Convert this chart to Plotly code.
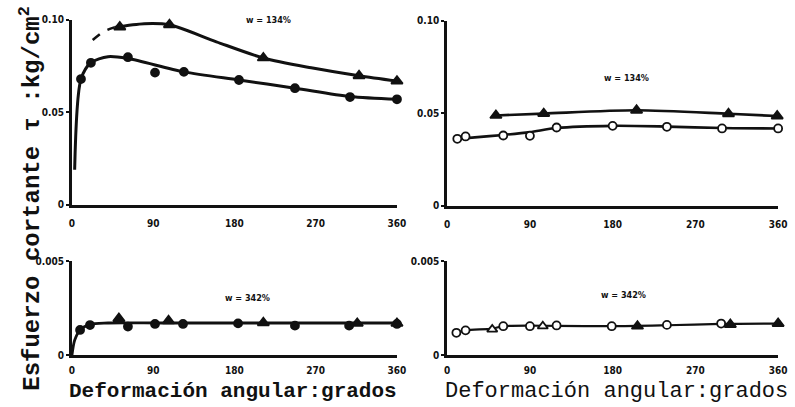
import plotly.graph_objects as go

# ---------------- data ----------------
# Top-left panel (w = 134 %), shear stress kg/cm2 vs angular deformation (deg)
tl_tri_x = [53, 108, 212, 318, 360]
tl_tri_y = [0.0960, 0.0972, 0.0793, 0.0697, 0.0668]
tl_cir_x = [10, 21, 62, 92, 124, 185, 247, 308, 360]
tl_cir_y = [0.0679, 0.0767, 0.0797, 0.0714, 0.0718, 0.0674, 0.0630, 0.0582, 0.0570]
tl_tri_curve_dash_x = [23, 35, 47]
tl_tri_curve_dash_y = [0.0890, 0.0935, 0.0958]
tl_tri_curve_x = [47, 80, 108, 160, 212, 265, 318, 360]
tl_tri_curve_y = [0.0958, 0.0978, 0.0972, 0.0880, 0.0793, 0.0740, 0.0697, 0.0668]
tl_cir_curve_x = [3, 10, 21, 40, 62, 124, 185, 247, 308, 360]
tl_cir_curve_y = [0.019, 0.0679, 0.0767, 0.0800, 0.0790, 0.0718, 0.0674, 0.0630, 0.0585, 0.0570]

# Top-right panel (w = 134 %)
tr_tri_x = [53, 105, 206, 306, 359]
tr_tri_y = [0.0488, 0.0498, 0.0516, 0.0497, 0.0485]
tr_cir_x = [11, 20, 61, 90, 119, 180, 239, 299, 360]
tr_cir_y = [0.0362, 0.0375, 0.0380, 0.0378, 0.0423, 0.0432, 0.0427, 0.0418, 0.0418]
tr_cir_curve_x = [8, 30, 61, 90, 119, 180, 239, 299, 360]
tr_cir_curve_y = [0.0360, 0.0370, 0.0383, 0.0398, 0.0420, 0.0432, 0.0428, 0.0420, 0.0418]

# Bottom-left panel (w = 342 %)
bl_cir_x = [9, 20, 62, 92, 123, 184, 247, 307, 360]
bl_cir_y = [0.00135, 0.00161, 0.00153, 0.00167, 0.00167, 0.00170, 0.00158, 0.00158, 0.00167]
bl_tri_x = [52, 107, 212, 316, 360]
bl_tri_y = [0.00196, 0.00184, 0.00173, 0.00170, 0.00170]
bl_curve_x = [0, 3, 9, 20, 40, 100, 200, 300, 360]
bl_curve_y = [0.0, 0.0008, 0.00135, 0.00165, 0.00172, 0.00172, 0.00172, 0.00172, 0.00172]

# Bottom-right panel (w = 342 %)
br_cir_x = [10, 20, 61, 90, 119, 179, 239, 298]
br_cir_y = [0.00120, 0.00133, 0.00155, 0.00155, 0.00159, 0.00155, 0.00162, 0.00169]
br_otri_x = [49, 104]
br_otri_y = [0.00138, 0.00155]
br_ftri_x = [207, 308, 360]
br_ftri_y = [0.00155, 0.00164, 0.00169]
br_curve_x = [10, 20, 49, 61, 119, 179, 239, 298, 360]
br_curve_y = [0.00120, 0.00133, 0.00142, 0.00155, 0.00157, 0.00155, 0.00160, 0.00167, 0.00169]

x_ticks = [0, 90, 180, 270, 360]
x_tick_text = ["0", "90", "180", "270", "360"]
top_y_ticks = [0, 0.05, 0.10]
top_y_text = ["0", "0.05", "0.10"]
bot_y_ticks = [0, 0.005]
bot_y_text = ["0", "0.005"]

# ---------------- figure ----------------
W, H = 795, 407
fig = go.Figure()
INK = "#111111"


def line(x, y, ax, width=2.6, dash="solid"):
    fig.add_trace(go.Scatter(x=x, y=y, mode="lines", xaxis=ax[0], yaxis=ax[1],
                             line=dict(color=INK, width=width, shape="spline", smoothing=0.8, dash=dash),
                             hoverinfo="skip", showlegend=False))


def marks(x, y, ax, symbol, size=9, fill=INK):
    fig.add_trace(go.Scatter(x=x, y=y, mode="markers", xaxis=ax[0], yaxis=ax[1], cliponaxis=False,
                             marker=dict(symbol=symbol, size=size, color=fill,
                                         line=dict(color=INK, width=1.8)),
                             showlegend=False))


TL = ("x", "y")
TR = ("x2", "y2")
BL = ("x3", "y3")
BR = ("x4", "y4")

line(tl_tri_curve_dash_x, tl_tri_curve_dash_y, TL, width=2.6, dash="dash")
line(tl_tri_curve_x, tl_tri_curve_y, TL, width=3)
line(tl_cir_curve_x, tl_cir_curve_y, TL, width=3)
marks(tl_tri_x, tl_tri_y, TL, "triangle-up", 10)
marks(tl_cir_x, tl_cir_y, TL, "circle", 8)

line(tr_tri_x, tr_tri_y, TR, width=2.6)
line(tr_cir_curve_x, tr_cir_curve_y, TR, width=2.6)
marks(tr_tri_x, tr_tri_y, TR, "triangle-up", 10)
marks(tr_cir_x, tr_cir_y, TR, "circle", 8, fill="white")

line(bl_curve_x, bl_curve_y, BL, width=2.8)
marks(bl_cir_x, bl_cir_y, BL, "circle", 8)
marks(bl_tri_x, bl_tri_y, BL, "triangle-up", 10)

line(br_curve_x, br_curve_y, BR, width=2.2)
marks(br_cir_x, br_cir_y, BR, "circle", 8, fill="white")
marks(br_otri_x, br_otri_y, BR, "triangle-up", 9, fill="white")
marks(br_ftri_x, br_ftri_y, BR, "triangle-up", 10)

tick_font = dict(family="DejaVu Sans Condensed", size=10, color=INK, weight="bold")


def xdom(l, r):
    return [l / W, r / W]


def ydom(top, bottom):
    return [1 - bottom / H, 1 - top / H]


common_x = dict(range=[0, 360], tickvals=x_ticks, ticktext=x_tick_text, showgrid=False, zeroline=False,
                showline=True, linecolor=INK, linewidth=3, ticks="", tickfont=tick_font)
common_y = dict(showgrid=False, zeroline=False, showline=True, linecolor=INK, linewidth=3,
                ticks="outside", ticklen=3, tickwidth=2, tickcolor=INK, tickfont=tick_font)

fig.update_layout(
    width=W, height=H, margin=dict(l=0, r=0, t=0, b=0),
    paper_bgcolor="white", plot_bgcolor="white",
    xaxis=dict(domain=xdom(70, 400), anchor="y", ticklabelstandoff=7, **common_x),
    yaxis=dict(domain=ydom(14, 205), anchor="x", range=[0, 0.10], tickvals=top_y_ticks, ticktext=top_y_text, **common_y),
    xaxis2=dict(domain=xdom(451, 787), anchor="y2", ticklabelstandoff=7, **common_x),
    yaxis2=dict(domain=ydom(15, 206), anchor="x2", range=[0, 0.10], tickvals=top_y_ticks, ticktext=top_y_text, **common_y),
    xaxis3=dict(domain=xdom(70, 400), anchor="y3", ticklabelstandoff=4, **common_x),
    yaxis3=dict(domain=ydom(263, 360), anchor="x3", range=[0, 0.005], tickvals=bot_y_ticks, ticktext=bot_y_text, **common_y),
    xaxis4=dict(domain=xdom(451, 787), anchor="y4", ticklabelstandoff=4, **common_x),
    yaxis4=dict(domain=ydom(263, 360), anchor="x4", range=[0, 0.005], tickvals=bot_y_ticks, ticktext=bot_y_text, **common_y),
)

small = dict(family="DejaVu Sans Condensed", size=9, color=INK)
annots = [
    dict(x=270 / W, y=1 - 14 / H, text="<b>w = 134%</b>", font=small),
    dict(x=633 / W, y=1 - 74 / H, text="<b>w = 134%</b>", font=small),
    dict(x=248 / W, y=1 - 301 / H, text="<b>w = 342%</b>", font=small),
    dict(x=630 / W, y=1 - 298 / H, text="<b>w = 342%</b>", font=small),
    dict(x=28 / W, y=1 - 198 / H, text="<b>Esfuerzo cortante τ :kg/cm<sup>2</sup></b>", textangle=-90,
         font=dict(family="Liberation Mono", size=24, color=INK)),
    dict(x=234 / W, y=1 - 397 / H, text="<b>Deformación angular:grados</b>",
         font=dict(family="Liberation Mono", size=21, color=INK)),
    dict(x=623 / W, y=1 - 397 / H, text="Deformación angular:grados",
         font=dict(family="Liberation Mono", size=22, color=INK)),
]
for a in annots:
    a.update(xref="paper", yref="paper", showarrow=False, xanchor="center", yanchor="middle")
fig.update_layout(annotations=annots)

fig.write_html("out.html")
